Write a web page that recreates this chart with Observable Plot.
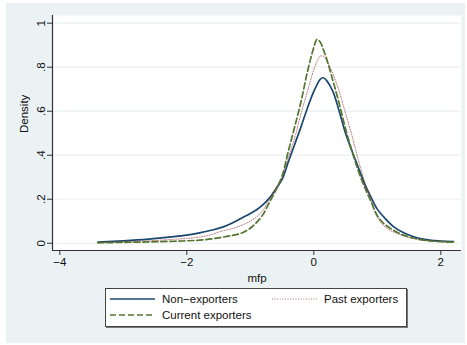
<!DOCTYPE html>
<html><head><meta charset="utf-8">
<script src="https://cdn.jsdelivr.net/npm/d3@7"></script>
<script src="https://cdn.jsdelivr.net/npm/@observablehq/plot@0.6"></script>
<style>
html,body{margin:0;padding:0;background:#fff;}
#wrap{position:relative;width:467px;height:345px;overflow:hidden;font-family:"Liberation Sans",Arial,sans-serif;}
#bg{position:absolute;left:6px;top:3px;width:459px;height:340px;background:#eaf2f3;}
#chart{position:absolute;left:0;top:0;}
#legend{position:absolute;left:105px;top:288px;width:300px;height:37px;background:#fff;border:1px solid #444;box-shadow:1px 1px 0 #777;font-size:11.5px;color:#111;}
.item{position:absolute;display:flex;align-items:center;white-space:nowrap;}
.item svg{margin-right:7px;}
</style></head>
<body>
<div id="wrap"><div id="bg"></div><div id="chart"></div><div id="legend"></div></div>
<script>
const grid = [-3.4,-3.0,-2.6,-2.2,-2.0,-1.8,-1.6,-1.45,-1.3,-1.15,-1.0,-0.9,-0.8,-0.7,-0.6,-0.5,-0.4,-0.3,-0.2,-0.1,0.0,0.05,0.1,0.15,0.2,0.3,0.4,0.5,0.6,0.7,0.8,0.9,1.0,1.1,1.25,1.4,1.55,1.7,1.85,2.0,2.2];
const nonExporters = [.005,.011,.019,.03,.037,.047,.06,.072,.09,.112,.135,.152,.175,.205,.245,.29,.37,.45,.53,.615,.69,.72,.745,.752,.74,.69,.6,.5,.42,.345,.27,.21,.155,.12,.077,.05,.032,.02,.013,.01,.007];
const pastExporters = [.003,.007,.011,.018,.022,.028,.04,.055,.065,.08,.1,.12,.15,.2,.25,.3,.39,.48,.59,.69,.79,.825,.85,.85,.83,.77,.69,.59,.49,.38,.28,.2,.12,.08,.052,.035,.022,.015,.011,.008,.005];
const currentExporters = [.002,.004,.006,.009,.011,.014,.02,.027,.035,.045,.068,.095,.13,.185,.24,.305,.42,.53,.645,.78,.89,.926,.915,.88,.84,.74,.635,.52,.42,.33,.255,.19,.125,.09,.06,.038,.025,.015,.01,.007,.005];
const seriesNames = ["Non\u2212exporters","Past exporters","Current exporters"];
const seriesColors = ["#1a476f","#90353b","#55752f"];
const yTicks = [0,0.2,0.4,0.6,0.8,1];
const yTickLabels = ["0",".2",".4",".6",".8","1"];
const xTicks = [-4,-2,0,2];
const xTickLabels = ["\u22124","\u22122","0","2"];
const xTitle = "mfp", yTitle = "Density";

const mk = vals => grid.map((x,i)=>({x, y: vals[i]}));
const styles = [
  {stroke:seriesColors[0], strokeWidth:1.7},
  {stroke:seriesColors[1], strokeWidth:1, strokeDasharray:"1 1.6", strokeOpacity:0.7},
  {stroke:seriesColors[2], strokeWidth:1.7, strokeDasharray:"6 3"}
];
const data = [nonExporters, pastExporters, currentExporters].map(mk);

const chart = Plot.plot({
  width:467, height:345,
  marginLeft:52, marginRight:6, marginTop:15, marginBottom:95,
  style:{background:"transparent", fontFamily:"Liberation Sans, Arial, sans-serif", fontSize:"11.5px", color:"#111"},
  x:{domain:[-4.115,2.326]},
  y:{domain:[-0.033,1.035]},
  marks:[
    Plot.frame({fill:"white", stroke:"none"}),
    Plot.ruleY(yTicks, {stroke:"#eaf2f3", strokeWidth:1.2}),
    Plot.axisX({ticks:xTicks, tickFormat:(d,i)=>xTickLabels[xTicks.indexOf(d)], tickSize:5, tickPadding:2, label:null, stroke:"#333"}),
    Plot.axisY({ticks:yTicks, tickFormat:d=>yTickLabels[yTicks.indexOf(d)], tickSize:5, tickPadding:3, tickRotate:-90, label:null, stroke:"#333"}),
    Plot.ruleX([-4.115], {stroke:"#333", strokeWidth:1.2}),
    Plot.ruleY([-0.033], {stroke:"#333", strokeWidth:1.2}),
    Plot.text([xTitle], {frameAnchor:"bottom", dy:31, fill:"#111"}),
    Plot.text([yTitle], {frameAnchor:"left", dx:-28, rotate:-90, fill:"#111"}),
    ...data.map((d,i)=>Plot.line(d, {x:"x", y:"y", curve:"catmull-rom", ...styles[i]}))
  ]
});
document.getElementById("chart").appendChild(chart);

// legend
const lg = document.getElementById("legend");
const pos = [[4,4],[166,4],[4,20]];
[0,1,2].forEach(i=>{
  const it = document.createElement("div");
  it.className="item";
  it.style.left=pos[i][0]+"px"; it.style.top=pos[i][1]+"px";
  const s = styles[i];
  it.innerHTML = `<svg width="45" height="12"><line x1="0" x2="45" y1="6" y2="6" stroke="${s.stroke}" stroke-width="${s.strokeWidth}" ${s.strokeDasharray?`stroke-dasharray="${s.strokeDasharray}"`:""} ${s.strokeOpacity?`stroke-opacity="${s.strokeOpacity}"`:""}/></svg><span>${seriesNames[i]}</span>`;
  lg.appendChild(it);
});
</script>
</body></html>
